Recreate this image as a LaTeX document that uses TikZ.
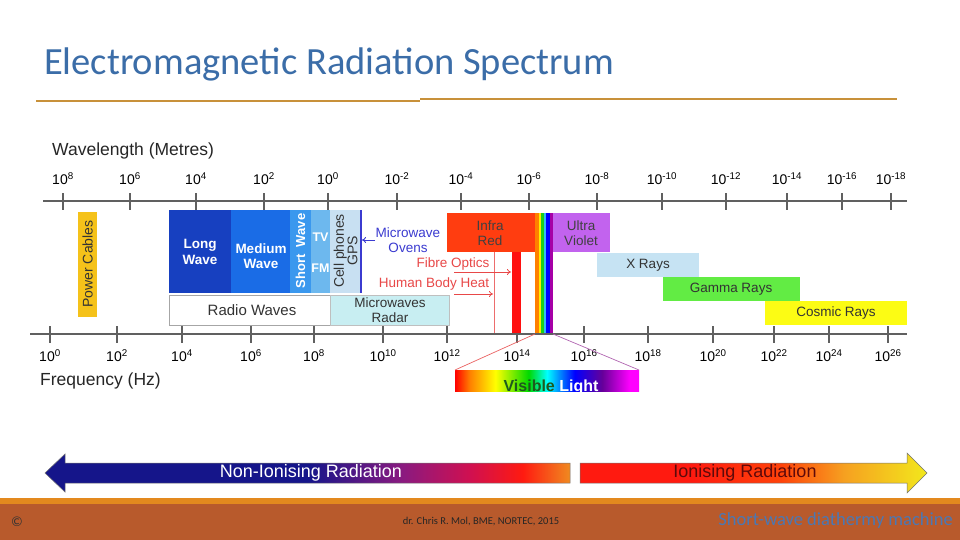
\documentclass[tikz,border=0pt]{standalone}
\usepackage{fontspec}
\setmainfont{Liberation Sans}
\newfontfamily\calfont{Carlito}
\usetikzlibrary{arrows.meta}
\definecolor{titleblue}{HTML}{3B6DA8}
\definecolor{rule}{HTML}{C8913A}
\definecolor{footorange}{HTML}{E3891E}
\definecolor{rust}{HTML}{B85A2C}
\definecolor{footblue}{HTML}{4A78B4}
\definecolor{axisgray}{HTML}{606060}
\definecolor{pwr}{HTML}{F5C21A}
\definecolor{lw}{HTML}{1740C0}
\definecolor{mw}{HTML}{1A6CE6}
\definecolor{sw}{HTML}{3A98EE}
\definecolor{tvfm}{HTML}{6DB8EE}
\definecolor{cell}{HTML}{C8E0F2}
\definecolor{mwline}{HTML}{3B3BD0}
\definecolor{radar}{HTML}{C8EEF2}
\definecolor{ir}{HTML}{FF3D10}
\definecolor{irbar}{HTML}{FF1010}
\definecolor{uv}{HTML}{C263EE}
\definecolor{xray}{HTML}{C6E3F3}
\definecolor{gamma}{HTML}{62EC44}
\definecolor{cosmic}{HTML}{FCFC14}
\definecolor{fibre}{HTML}{E84848}
\definecolor{navy}{HTML}{15158A}
\definecolor{plum}{HTML}{8A1A80}
\definecolor{crim}{HTML}{D01050}
\definecolor{orng}{HTML}{F08A20}
\definecolor{ionred}{HTML}{FF1A10}
\definecolor{ionorg}{HTML}{F6A020}
\definecolor{ionyel}{HTML}{F2E81C}
\definecolor{iontext}{HTML}{5E0A0A}
\definecolor{visgreen}{HTML}{1D5A1D}
\pgfdeclarehorizontalshading{nonion}{100bp}{color(0bp)=(navy); color(25bp)=(navy); color(50bp)=(navy); color(59bp)=(plum); color(65.5bp)=(crim); color(70.5bp)=(ionred); color(75bp)=(orng); color(100bp)=(orng)}
\pgfdeclarehorizontalshading{ionis}{100bp}{color(0bp)=(ionred); color(25bp)=(ionred); color(41bp)=(ionred); color(54bp)=(ionred!60!orange); color(63bp)=(ionorg); color(75bp)=(ionyel); color(100bp)=(ionyel)}
\pgfdeclarehorizontalshading{vis}{100bp}{color(0bp)=(red); color(25bp)=(red); color(29bp)=(orange); color(36bp)=(yellow); color(45bp)=(green!85!black); color(50bp)=(cyan); color(57.5bp)=(blue); color(65bp)=(violet!80!blue); color(72.5bp)=(magenta); color(75bp)=(magenta); color(100bp)=(magenta)}
\begin{document}
\begin{tikzpicture}[x=1pt,y=-1pt,
  axisline/.style={draw=axisgray, line width=1.4pt},
  tick/.style={draw=axisgray, line width=1.2pt},
  axlbl/.style={font=\fontsize{14}{16}\selectfont, text=black, inner sep=0},
  axtitle/.style={font=\fontsize{17.5}{20}\selectfont, text=black!85, inner sep=0, anchor=west},
  lbl/.style={font=\fontsize{13.5}{14.5}\selectfont, align=center, inner sep=0, text=black!80},
  blbl/.style={font=\bfseries\fontsize{13.5}{15.5}\selectfont, align=center, inner sep=0, text=white},
  redlbl/.style={font=\fontsize{13.5}{14.5}\selectfont, inner sep=0, text=fibre},
  redarrow/.style={draw=fibre, line width=0.8pt, -{To[length=4pt,width=6pt]}},
  bigtxt/.style={font=\fontsize{18}{20}\selectfont, inner sep=0}]
\useasboundingbox (0,0) rectangle (960,540);
\fill[white] (0,0) rectangle (960,540);

% title and rules
\node[font=\calfont\fontsize{38.5}{40}\selectfont, text=titleblue, anchor=west, inner sep=0] (title) at (44,64) {Electromagnetic Radiation Spectrum};
\draw[rule, line width=2pt] (36,101) -- (420,101);
\draw[rule, line width=2pt] (420,99) -- (897,99);

% footer
\fill[footorange] (0,498) rectangle (960,503.5);
\fill[rust] (0,503.5) rectangle (960,540);
\node[font=\calfont\fontsize{14}{16}\selectfont, text=black!80, inner sep=0] (copy) at (17,522) {©};
\node[font=\calfont\fontsize{10.5}{12}\selectfont, text=black!85, inner sep=0] (credit) at (481,522) {dr. Chris R. Mol, BME, NORTEC, 2015};
\node[font=\calfont\fontsize{18.5}{20}\selectfont, text=footblue, anchor=east, inner sep=0] (foottitle) at (953,521) {Short-wave diathermy machine};

% wavelength axis
\node[axtitle] (wltitle) at (52,151) {Wavelength (Metres)};
\draw[axisline] (43,201) -- (907,201);
\foreach \x/\e [count=\i] in {63/8,130/6,196/4,264/2,328/0,397/-2,461/-4,529/-6,597/-8,662/-10,726/-12,787/-14,842/-16,891/-18}{
  \draw[tick] (\x,193) -- (\x,210);
  \node[axlbl] (wl\i) at (\x,179) {10\textsuperscript{\e}};
}

% frequency axis
\draw[axisline] (30,334) -- (907,334);
\foreach \x/\e [count=\i] in {50/0,117/2,182/4,251/6,314/8,383/10,447/12,517/14,584/16,648/18,713/20,774/22,829/24,888/26}{
  \draw[tick] (\x,326) -- (\x,343);
  \node[axlbl] (fq\i) at (\x,356) {10\textsuperscript{\e}};
}
\node[axtitle] (fqtitle) at (40,381) {Frequency (Hz)};

% power cables
\fill[pwr] (78,212) rectangle (97,317);
\node[lbl, rotate=90, font=\fontsize{14}{15}\selectfont] (power) at (87.5,264) {Power Cables};

% radio bands
\fill[lw] (169,210) rectangle (231,293);
\node[blbl] (long) at (200,252) {Long\\Wave};
\fill[mw] (231,210) rectangle (290,293);
\node[blbl] (medium) at (261,256) {Medium\\Wave};
\fill[sw] (290,210) rectangle (311,293);
\node[blbl, rotate=90, font=\bfseries\fontsize{13}{14}\selectfont] (short) at (300.5,251) {Short\ \ Wave};
\fill[tvfm] (311,210) rectangle (330,293);
\node[blbl, font=\bfseries\fontsize{12.5}{14}\selectfont] (tv) at (320.5,237) {TV};
\node[blbl, font=\bfseries\fontsize{12.5}{14}\selectfont] (fm) at (320.5,268) {FM};
\fill[cell] (330,210) rectangle (360,293);
\node[lbl, rotate=90, font=\fontsize{14}{13.5}\selectfont] (cellph) at (345.5,251) {Cell phones\\GPS};
\draw[mwline, line width=1.3pt] (361,210) -- (361,293);
\coordinate (mwhit) at (362,240);
\node[lbl, text=mwline] (oven) at (408,240) {Microwave\\Ovens};
\draw[mwline, line width=0.9pt, -{To[length=4pt,width=6pt]}] (375,240) -- (mwhit);

\draw[draw=black!35, fill=white, line width=0.6pt] (169,295) rectangle (330,325);
\node[lbl, font=\fontsize{15}{16}\selectfont] (radio) at (252,310) {Radio Waves};
\draw[draw=black!25, fill=radar, line width=0.6pt] (330,295) rectangle (449,325);
\node[lbl] (radarl) at (390,310) {Microwaves\\Radar};

% infra red, visible band, ultra violet
\fill[ir] (447,213) rectangle (535,252);
\node[lbl, text=black!75] (irl) at (490,233) {Infra\\Red};
\fill[irbar] (512,252) rectangle (521,333);
\draw[fibre!80, line width=0.8pt] (494,252) -- (494,333);
\fill[orange] (535,213) rectangle (538.5,333);
\fill[yellow!95!orange] (538.5,213) rectangle (541,333);
\fill[green!80!black!90] (541,213) rectangle (543.5,333);
\fill[cyan!80] (543.5,213) rectangle (546,333);
\fill[blue] (546,213) rectangle (550,333);
\fill[violet!70!magenta] (550,213) rectangle (553,333);
\fill[uv] (553,213) rectangle (610,252);
\node[lbl, text=black!75] (uvl) at (581,233) {Ultra\\Violet};

\node[redlbl] (fibrel) at (453,264) {Fibre Optics};
\draw[redarrow] (454,272) -- (511,272);
\node[redlbl] (bodyl) at (434,284) {Human Body Heat};
\draw[redarrow] (454,294) -- (493,294);

% high energy
\fill[xray] (597,253) rectangle (699,277);
\node[lbl] (xr) at (648,265) {X Rays};
\fill[gamma] (663,277) rectangle (800,301);
\node[lbl] (gr) at (731,289) {Gamma Rays};
\fill[cosmic] (765,301) rectangle (907,325);
\node[lbl] (cr) at (836,313) {Cosmic Rays};

% visible light zoom
\coordinate (visL) at (535,334);
\coordinate (visR) at (553,334);
\shade[shading=vis] (455,370) rectangle (639,391.5);
\draw[fibre!85, line width=0.7pt] (visL) -- (455,370);
\draw[violet!60, line width=0.7pt] (visR) -- (639,370);
\begin{scope}
\clip (455,370) rectangle (639,391.5);
\node[font=\bfseries\fontsize{16}{18}\selectfont, inner sep=0, anchor=base] (visl) at (551,391) {\textcolor{visgreen}{Visible} \textcolor{white}{Light}};
\end{scope}

% ionising arrows
\shadedraw[shading=nonion, draw=black!55, line width=0.5pt] (45,473) -- (65,454) -- (65,463) -- (570,463) -- (570,483) -- (65,483) -- (65,492) -- cycle;
\node[bigtxt, text=white] (nonion) at (311,473) {Non-Ionising Radiation};
\shadedraw[shading=ionis, draw=black!55, line width=0.5pt] (580,463) -- (907,463) -- (907,453) -- (927,473) -- (907,493) -- (907,483) -- (580,483) -- cycle;
\node[bigtxt, text=iontext] (ion) at (745,473) {Ionising Radiation};
\end{tikzpicture}
\end{document}
